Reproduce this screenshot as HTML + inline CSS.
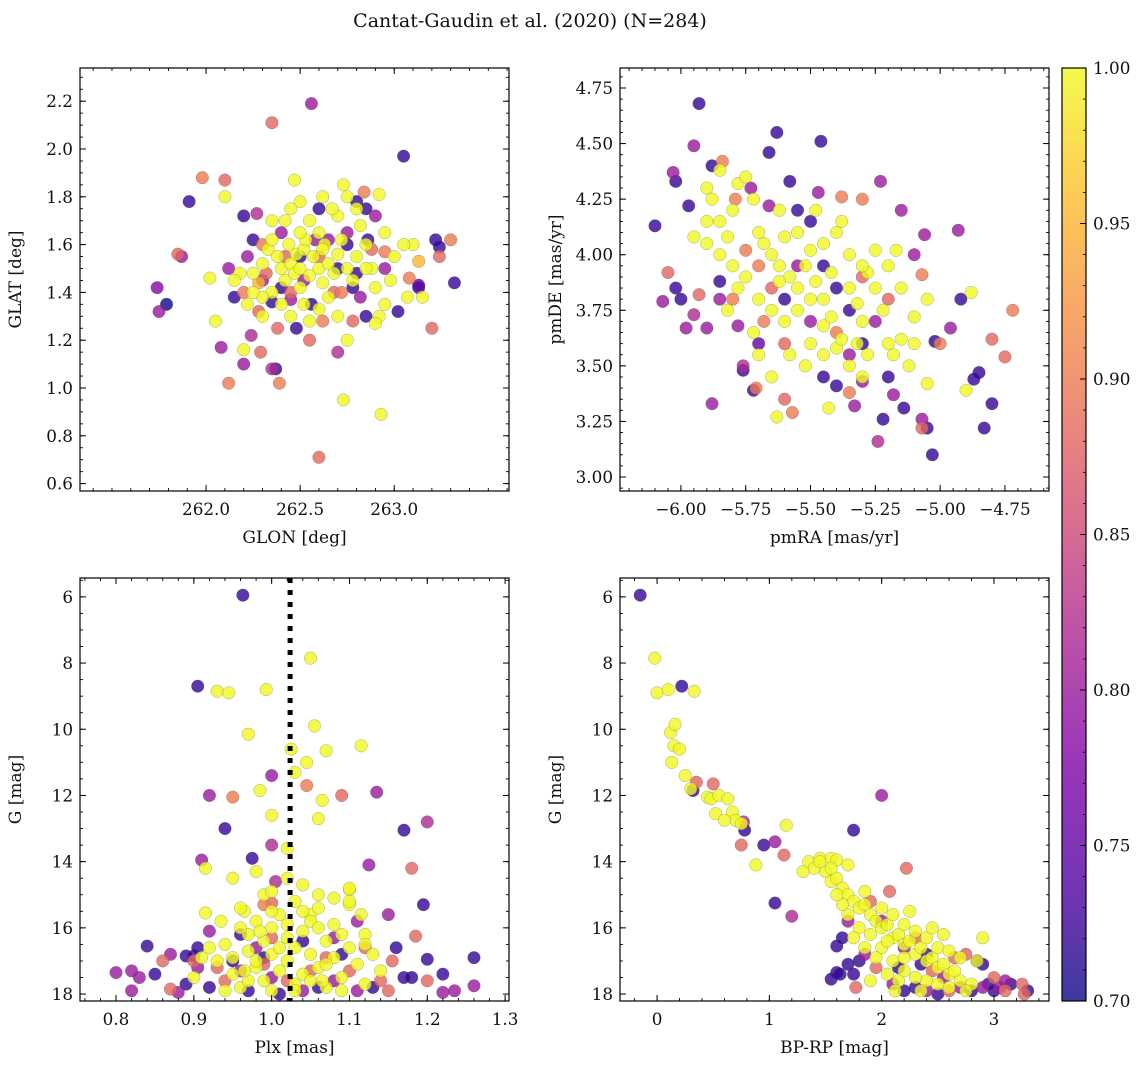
<!DOCTYPE html>
<html><head><meta charset="utf-8">
<style>
html,body{margin:0;padding:0;background:#fff;}
svg{display:block;font-family:"DejaVu Serif","Liberation Serif",serif;}
</style></head>
<body>
<svg id="fig" width="1148" height="1068" viewBox="0 0 1148 1068" xmlns="http://www.w3.org/2000/svg">
<text x="530" y="27" font-size="19" text-anchor="middle" fill="#111">Cantat-Gaudin et al. (2020) (N=284)</text>
</svg>
<script>
// ---- data: [x, y, membership probability] ----
const galPoints = [
[261.74,1.42,.78],[261.75,1.32,.80],[261.79,1.35,.70],[261.85,1.56,.88],[261.87,1.55,.80],[261.91,1.78,.72],[261.98,1.88,.90],[262.02,1.46,1],[262.05,1.28,1],[262.08,1.17,.80],[262.1,1.87,.88],[262.1,1.80,1],[262.12,1.02,.90],[262.12,1.5,.80],[262.2,1.1,.80],[262.2,1.16,1],[262.2,1.72,.72],[262.24,1.22,.82],[262.27,1.73,.82],[262.29,1.15,.88],[262.35,2.11,.88],[262.35,1.08,.82],[262.37,1.08,.72],[262.39,1.02,.90],[262.47,1.87,1],[262.56,2.19,.80],[262.6,0.71,.88],[262.73,0.95,1],[262.93,0.89,1],[262.84,1.82,.90],[262.86,1.62,.72],[262.92,1.81,1],[262.95,1.57,.90],[263.05,1.97,.72],[263.02,1.32,.72],[263.1,1.6,1],[263.13,1.42,.72],[263.13,1.43,.75],[263.13,1.53,.95],[263.15,1.38,1],[263.2,1.25,.88],[263.22,1.62,.72],[263.24,1.59,.72],[263.24,1.55,.88],[263.3,1.62,.90],[263.32,1.44,.72],[263.08,1.46,.90],
[262.25,1.48,1],[262.28,1.44,.95],[262.3,1.52,1],[262.33,1.58,1],[262.35,1.62,1],[262.38,1.55,1],[262.4,1.5,1],[262.42,1.45,1],[262.44,1.6,1],[262.45,1.52,1],[262.47,1.48,1],[262.48,1.56,1],[262.5,1.5,1],[262.5,1.42,1],[262.52,1.58,1],[262.53,1.62,1],[262.55,1.47,1],[262.57,1.55,1],[262.6,1.5,1],[262.62,1.44,1],[262.63,1.6,1],[262.65,1.52,1],[262.68,1.48,1],[262.7,1.56,1],[262.72,1.62,1],[262.75,1.5,1],[262.78,1.45,1],[262.8,1.55,1],[262.82,1.68,1],[262.85,1.6,1],[262.88,1.5,1],[262.9,1.42,1],[262.95,1.35,1],[262.92,1.3,1],[262.9,1.27,1],[262.75,1.2,1],[262.7,1.3,1],[262.65,1.38,1],[262.6,1.33,1],[262.55,1.28,1],[262.45,1.3,1],[262.4,1.35,1],[262.35,1.4,1],[262.3,1.38,1],[262.25,1.4,1],[262.22,1.35,1],[262.18,1.48,1],[262.15,1.45,1],[262.42,1.7,1],[262.5,1.78,1],[262.6,1.65,1],[262.7,1.72,1],[262.75,1.8,1],[262.73,1.85,1],[262.8,1.75,1],[262.67,1.75,1],[262.55,1.7,1],[262.45,1.75,1],[262.35,1.7,1],[262.5,1.65,1],[262.62,1.58,1],[262.85,1.5,1],[262.98,1.45,1],[263.0,1.55,1],[262.95,1.65,1],[263.05,1.6,1],[263.07,1.38,1],[262.52,1.35,1],[262.3,1.3,1],[262.62,1.8,1],
[262.3,1.45,.80],[262.35,1.36,.72],[262.4,1.42,.72],[262.45,1.37,.80],[262.52,1.45,.80],[262.56,1.35,.72],[262.6,1.55,.88],[262.65,1.62,.80],[262.68,1.4,.88],[262.7,1.5,.72],[262.75,1.65,.80],[262.78,1.42,.72],[262.8,1.48,.72],[262.82,1.38,.80],[262.85,1.3,.72],[262.88,1.58,.88],[262.9,1.72,.80],[262.85,1.75,.72],[262.8,1.78,.72],[262.6,1.75,.72],[262.58,1.62,.80],[262.42,1.55,.88],[262.4,1.65,.80],[262.32,1.48,.88],[262.25,1.62,.72],[262.2,1.4,.90],[262.15,1.38,.72],[262.48,1.25,.72],[262.38,1.25,.88],[262.28,1.32,.88],[262.55,1.2,.88],[262.7,1.15,.82],[262.78,1.28,.88],[262.72,1.4,.90],[262.62,1.28,.90],[262.45,1.4,.88],[262.5,1.55,.72],[262.3,1.6,.90],[262.22,1.55,.80],[262.75,1.6,.72],[262.95,1.5,.80]
];
const pmPoints = [
[-6.1,4.13,.72],[-6.05,3.92,.88],[-6.07,3.79,.80],[-6.03,4.37,.80],[-6.02,4.33,.72],[-6.02,3.85,.72],[-6.0,3.80,.72],[-5.97,4.22,.72],[-5.93,4.68,.72],[-5.95,4.49,.80],[-5.98,3.67,.80],[-5.95,3.73,.82],[-5.93,3.82,.88],[-5.9,3.67,.80],[-5.88,3.33,.80],[-5.85,3.8,.8],[-5.85,3.88,.72],[-5.78,3.68,.80],[-5.76,3.5,.82],[-5.76,3.48,.72],[-5.72,3.39,.72],[-5.71,3.4,.9],[-5.7,3.6,.75],[-5.68,3.7,.9],[-5.63,4.55,.72],[-5.66,4.46,.72],[-5.63,3.27,1],[-5.6,3.35,.88],[-5.57,3.29,.90],[-5.58,4.33,.72],[-5.55,4.2,.72],[-5.46,4.51,.72],[-5.47,4.28,.80],[-5.43,3.31,1],[-5.4,3.41,.72],[-5.35,3.38,.90],[-5.33,3.32,.80],[-5.3,3.43,.80],[-5.24,3.16,.82],[-5.22,3.26,.72],[-5.2,3.45,.72],[-5.18,3.37,.80],[-5.14,3.31,.72],[-5.07,3.22,.88],[-5.07,3.26,.80],[-5.05,3.22,.72],[-5.03,3.1,.72],[-5.05,3.42,1],[-5.02,3.61,.72],[-5.0,3.6,.9],[-4.96,3.67,.8],[-4.92,3.8,.72],[-4.88,3.83,1],[-4.9,3.39,1],[-4.87,3.44,.72],[-4.85,3.47,.72],[-4.83,3.22,.72],[-4.8,3.33,.72],[-4.8,3.62,.88],[-4.75,3.54,.88],[-4.72,3.75,.90],[-4.93,4.11,.80],[-5.06,4.09,.80],[-5.1,4.0,.80],[-5.07,3.91,.90],[-5.23,4.33,.80],[-5.17,4.02,1],[-5.15,4.2,.80],[-5.3,4.25,.90],[-5.38,4.26,.90],[-5.66,4.22,.8],[-5.73,4.3,.80],[-5.84,4.42,.90],[-5.88,4.4,.72],[-5.79,4.25,.9],
[-5.9,4.3,1],[-5.88,4.25,1],[-5.85,4.15,1],[-5.82,4.08,1],[-5.8,4.2,1],[-5.78,4.32,1],[-5.75,4.35,1],[-5.72,4.25,1],[-5.7,4.1,1],[-5.68,4.05,1],[-5.65,4.0,1],[-5.62,3.95,1],[-5.6,4.08,1],[-5.58,3.9,1],[-5.55,3.85,1],[-5.52,3.95,1],[-5.5,4.02,1],[-5.48,3.88,1],[-5.45,3.8,1],[-5.42,3.92,1],[-5.4,4.1,1],[-5.38,4.15,1],[-5.35,3.85,1],[-5.32,3.78,1],[-5.3,3.7,1],[-5.28,3.92,1],[-5.25,3.85,1],[-5.22,3.75,1],[-5.2,3.6,1],[-5.18,3.55,1],[-5.15,3.62,1],[-5.12,3.5,1],[-5.1,3.72,1],[-5.5,3.6,1],[-5.52,3.5,1],[-5.45,3.55,1],[-5.4,3.58,1],[-5.35,3.5,1],[-5.3,3.45,1],[-5.28,3.55,1],[-5.6,3.7,1],[-5.65,3.75,1],[-5.7,3.8,1],[-5.75,3.9,1],[-5.8,3.95,1],[-5.85,4.0,1],[-5.9,4.05,1],[-5.95,4.08,1],[-5.82,3.75,1],[-5.78,3.85,1],[-5.7,3.55,1],[-5.65,3.45,1],[-5.58,3.55,1],[-5.55,3.75,1],[-5.5,3.8,1],[-5.45,3.68,1],[-5.42,3.72,1],[-5.38,3.62,1],[-5.25,4.02,1],[-5.2,3.95,1],[-5.15,3.85,1],[-5.05,3.8,1],[-5.1,3.6,1],[-5.62,4.2,1],[-5.55,4.1,1],[-5.48,4.2,1],[-5.45,4.05,1],[-5.35,4.0,1],[-5.3,3.95,1],[-5.32,3.6,1],[-5.62,3.88,1],[-5.72,3.65,1],[-5.85,4.38,1],[-5.9,4.15,1],
[-5.7,3.95,.9],[-5.6,3.8,.72],[-5.5,3.7,.80],[-5.45,3.95,.72],[-5.4,3.85,.72],[-5.35,3.75,.72],[-5.3,3.6,.72],[-5.25,3.7,.8],[-5.2,3.8,.88],[-5.55,3.95,.8],[-5.65,3.85,.88],[-5.75,4.02,.9],[-5.8,3.8,.9],[-5.5,4.15,.72],[-5.4,3.65,.9],[-5.35,3.55,.8],[-5.45,3.45,.72],[-5.3,3.9,.88],[-5.6,3.6,.88]
];
const plxPoints = [
[0.963,5.95,.72],[0.905,8.7,.72],[0.93,8.85,1],[0.945,8.9,1],[0.993,8.8,1],[1.05,7.85,1],[0.97,10.15,1],[1.055,9.9,1],[1.025,10.6,1],[1.07,10.65,1],[1.115,10.5,1],[1.045,11,1],[1.0,11.4,.80],[1.03,11.3,1],[0.985,11.85,1],[0.92,12.0,.80],[0.95,12.05,.90],[1.045,11.7,.90],[1.065,12.15,1],[1.09,12.0,.88],[1.135,11.9,.80],[1.2,12.8,.82],[1.06,12.7,1],[1.0,12.6,1],[0.94,13.0,.72],[1.0,13.5,.82],[1.02,13.6,1],[1.17,13.05,.72],[0.91,13.95,.80],[0.915,14.2,1],[0.975,13.9,.72],[0.98,14.3,1],[1.005,14.6,.82],[1.125,14.1,.80],[1.18,14.2,.88],[1.1,14.85,1],[1.05,15.6,1],[0.915,15.55,1],[0.965,15.5,1],[1.0,15.25,.88],[1.1,15.3,1],[1.15,15.6,.80],[1.12,16.2,1],[1.185,16.25,.88],[1.2,16.95,.72],[1.195,15.3,.72],[0.84,16.55,.72],[0.86,17.0,.88],[0.80,17.35,.80],[0.82,17.3,.80],[0.82,17.9,.80],[0.83,17.5,.80],[0.85,17.4,.72],[0.87,16.8,.80],[0.89,17.7,.72],[0.89,16.85,.72],[0.9,16.85,.72],[0.905,16.6,.72],[0.905,17.2,.80],[0.92,16.1,.80],[0.88,17.95,.80],[0.87,17.85,.88],[1.26,16.9,.72],[1.26,17.75,.80],[1.22,17.4,.72],[1.22,17.95,.80],[1.235,17.9,.80],[1.2,17.6,.88],[1.18,17.5,.72],[1.17,17.5,.72],[1.16,16.6,.72],[1.155,17.0,.88],[1.14,17.6,.88],
[0.94,16.5,1],[0.95,16.9,1],[0.95,17.4,1],[0.96,17.8,1],[0.97,16.2,1],[0.97,16.7,1],[0.98,17.2,1],[0.98,15.8,1],[0.99,16.4,1],[0.99,17.6,1],[1.0,16.0,1],[1.0,16.8,1],[1.0,17.9,1],[1.01,17.3,1],[1.01,15.6,1],[1.02,16.3,1],[1.02,17.0,1],[1.03,16.6,1],[1.03,15.2,1],[1.03,17.7,1],[1.04,16.1,1],[1.04,17.4,1],[1.05,15.8,1],[1.05,16.8,1],[1.06,15.4,1],[1.06,17.2,1],[1.07,16.4,1],[1.07,17.8,1],[1.08,16.9,1],[1.08,15.9,1],[1.09,16.2,1],[1.09,17.5,1],[1.1,16.6,1],[1.1,15.2,1],[1.11,17.1,1],[1.12,16.5,1],[0.93,17.0,1],[0.92,16.6,1],[0.96,15.4,1],[0.97,17.6,1],[0.985,16.1,1],[0.99,15.0,1],[1.0,14.9,1],[1.02,14.5,1],[1.04,14.7,1],[1.06,15.0,1],[1.08,15.1,1],[1.1,14.8,1],[1.115,15.6,1],[1.13,16.8,1],[1.14,17.3,1],[0.9,17.5,1],[0.91,16.9,1],[0.94,17.9,1],[0.96,16.0,1],[0.98,17.0,1],[1.01,16.6,1],[1.03,17.9,1],[1.05,17.6,1],[1.07,17.1,1],[0.95,14.5,1],[1.04,15.5,1],[1.0,15.5,1],[1.06,16.0,1],[1.09,17.9,1],[0.935,15.8,1],[1.02,15.9,1],[0.965,17.3,1],[1.065,17.6,1],[1.12,17.7,1],
[0.93,17.2,.88],[0.94,17.6,.88],[0.96,17.3,.80],[0.97,17.9,.72],[0.99,17.1,.88],[1.0,17.5,.80],[1.01,18.0,.72],[1.02,17.6,.88],[1.04,17.9,.80],[1.05,17.3,.88],[1.06,17.8,.72],[1.07,16.9,.88],[1.08,17.6,.80],[1.09,16.8,.72],[1.1,17.3,.88],[1.11,17.9,.80],[1.12,16.6,.88],[1.13,17.8,.72],[0.98,16.6,.80],[0.96,16.2,.72],[1.0,16.3,.88],[1.04,16.4,.72],[1.08,16.3,.80],[1.11,15.8,.80],[0.99,15.3,.90],[0.95,17.0,.72],[0.92,17.8,.72],[1.15,17.9,.88],[0.9,17.0,.88],[0.99,16.9,.72]
];
const cmdPoints = [
[-0.15,5.95,.72],[-0.02,7.85,1],[0.0,8.9,1],[0.1,8.8,1],[0.22,8.7,.72],[0.33,8.85,1],[0.12,10.1,1],[0.16,9.85,1],[0.15,10.5,1],[0.2,10.6,1],[0.13,11.0,1],[0.25,11.4,1],[0.3,11.8,1],[0.32,11.85,.72],[0.35,11.6,.88],[0.45,12.05,1],[0.48,12.1,1],[0.5,11.65,.88],[0.55,12.0,1],[0.63,12.1,1],[0.67,12.5,1],[0.7,12.75,1],[0.75,12.85,1],[0.77,12.8,.82],[0.78,13.05,.72],[0.52,12.55,1],[0.6,12.75,1],[0.75,13.5,.88],[0.88,14.1,1],[0.95,13.5,.72],[1.05,13.4,.80],[1.15,12.9,1],[1.13,13.8,.88],[1.05,15.25,.72],[1.2,15.65,.82],[1.3,14.3,1],[1.35,14.0,1],[1.4,14.2,1],[1.45,13.9,1],[1.55,13.9,1],[1.6,13.95,1],[1.75,13.05,.72],[1.6,16.55,.72],[1.6,17.35,.72],[1.55,17.55,.72],[1.63,17.4,.72],[1.75,17.4,.72],[1.77,17.8,.88],[2.0,12.0,.80],[2.07,14.9,.88],[2.22,14.2,.88],
[1.5,14.3,1],[1.55,14.6,1],[1.6,14.5,1],[1.65,14.8,1],[1.7,15.0,1],[1.75,15.2,1],[1.8,15.4,1],[1.85,15.3,1],[1.9,15.6,1],[1.95,15.8,1],[2.0,16.0,1],[2.05,15.9,1],[2.1,16.3,1],[2.15,16.2,1],[2.2,16.5,1],[2.25,16.4,1],[2.3,16.8,1],[2.35,16.6,1],[2.4,17.0,1],[2.45,16.9,1],[2.5,17.2,1],[2.55,17.1,1],[2.6,17.4,1],[2.65,17.3,1],[2.7,17.6,1],[2.8,17.7,1],[2.85,17.0,1],[2.9,16.3,1],[2.75,17.9,1],[2.6,17.8,1],[2.4,17.6,1],[2.2,17.3,1],[2.1,17.0,1],[2.0,16.6,1],[1.9,16.2,1],[1.8,16.0,1],[1.7,15.6,1],[1.65,15.3,1],[1.6,15.0,1],[1.55,14.2,1],[1.45,14.0,1],[1.7,14.1,1],[1.85,14.9,1],[2.0,15.4,1],[2.1,15.6,1],[2.2,15.9,1],[2.3,16.1,1],[2.4,16.3,1],[2.5,16.6,1],[2.2,16.9,1],[2.3,17.5,1],[2.5,17.7,1],[2.35,17.9,1],[2.15,17.6,1],[2.05,17.4,1],[1.95,16.9,1],[1.85,16.6,1],[2.25,15.5,1],[2.45,16.0,1],[2.6,16.7,1],[2.7,16.9,1],[2.55,16.2,1],[2.05,16.4,1],[2.12,17.9,1],[1.9,17.6,1],[1.75,16.3,1],
[2.3,17.8,.72],[2.4,17.9,.80],[2.5,18.0,.72],[2.6,17.9,.88],[2.7,17.8,.80],[2.8,17.9,.72],[2.9,17.8,.80],[2.95,17.7,.72],[3.0,17.9,.72],[3.05,17.8,.80],[3.1,17.9,.88],[3.1,17.6,.80],[3.15,17.7,.72],[3.25,17.7,.88],[3.3,17.9,.72],[3.27,18.0,.88],[3.0,17.5,.88],[2.9,17.1,.72],[2.85,17.0,.72],[2.75,16.8,.88],[2.65,16.9,.88],[2.55,17.5,.80],[2.45,17.3,.88],[2.35,17.1,.72],[2.2,17.9,.72],[2.1,17.7,.80],[1.95,17.2,.88],[1.85,16.8,.80],[1.8,17.0,.72],[1.7,17.1,.72],[2.2,16.6,.80],[2.3,16.3,.88],[2.0,15.8,.80],[1.9,15.2,.88],[1.7,15.8,.80],[2.15,17.2,.72],[2.4,16.8,.72],[1.65,16.3,.72]
];
const plxCut = 1.0237;
const cbTicks = [0.70,0.75,0.80,0.85,0.90,0.95,1.00];

// ---- rendering ----
const NS = "http://www.w3.org/2000/svg";
const fig = document.getElementById('fig');
function mk(tag, attrs, parent){ const e=document.createElementNS(NS,tag); for(const k in attrs) e.setAttribute(k,attrs[k]); (parent||fig).appendChild(e); return e; }
const plasma=[[0,[13,8,135]],[0.125,[84,2,163]],[0.25,[126,3,168]],[0.375,[167,34,150]],[0.5,[204,71,120]],[0.625,[230,109,89]],[0.75,[248,149,64]],[0.875,[254,194,42]],[1,[240,249,33]]];
function cmap(t){ t=Math.max(0,Math.min(1,t)); for(let i=1;i<plasma.length;i++){ if(t<=plasma[i][0]){ const a=plasma[i-1],b=plasma[i]; const f=(t-a[0])/(b[0]-a[0]); const c=a[1].map((v,j)=>Math.round(v+(b[1][j]-v)*f)); return `rgb(${c[0]},${c[1]},${c[2]})`; } } return 'rgb(240,249,33)'; }
const norm = p => (p-0.70)/0.30;

const panels = [
 {name:'glon-glat', pts:galPoints, L:80,T:68,R:509,B:491, x0:261.33,x1:263.61, y0:0.569,y1:2.339, xMaj:[262.0,262.5,263.0], xFmt:1, xMin:0.1, yMaj:[0.6,0.8,1.0,1.2,1.4,1.6,1.8,2.0,2.2], yFmt:1, yMin:0.05, xl:'GLON [deg]', yl:'GLAT [deg]'},
 {name:'pmra-pmde', pts:pmPoints, L:620,T:68,R:1049,B:491, x0:-6.235,x1:-4.580, y0:2.937,y1:4.84, xMaj:[-6.0,-5.75,-5.5,-5.25,-5.0,-4.75], xFmt:2, xMin:0.05, yMaj:[3.0,3.25,3.5,3.75,4.0,4.25,4.5,4.75], yFmt:2, yMin:0.05, xl:'pmRA [mas/yr]', yl:'pmDE [mas/yr]'},
 {name:'plx-g', pts:plxPoints, L:80,T:578,R:509,B:1001, x0:0.7537,x1:1.305, y0:18.21,y1:5.43, xMaj:[0.8,0.9,1.0,1.1,1.2,1.3], xFmt:1, xMin:0.02, yMaj:[6,8,10,12,14,16,18], yFmt:0, yMin:0.5, xl:'Plx [mas]', yl:'G [mag]'},
 {name:'cmd', pts:cmdPoints, L:620,T:578,R:1049,B:1001, x0:-0.33,x1:3.49, y0:18.21,y1:5.43, xMaj:[0,1,2,3], xFmt:0, xMin:0.2, yMaj:[6,8,10,12,14,16,18], yFmt:0, yMin:0.5, xl:'BP-RP [mag]', yl:'G [mag]'}
];

panels.forEach(pn=>{
  const g = mk('g',{});
  
  
  const sx = v => pn.L + (v-pn.x0)/(pn.x1-pn.x0)*(pn.R-pn.L);
  const sy = v => pn.B - (v-pn.y0)/(pn.y1-pn.y0)*(pn.B-pn.T);
  const clipId='clip-'+pn.name;
  const cp=mk('clipPath',{id:clipId},g); mk('rect',{x:pn.L,y:pn.T,width:pn.R-pn.L,height:pn.B-pn.T},cp);
  const pg = mk('g',{'clip-path':`url(#${clipId})`},g);
  
  
  const sorted = pn.pts.slice().sort((a,b)=>a[2]-b[2]);
  sorted.forEach(d=>{
    const c = mk('circle',{cx:sx(d[0]),cy:sy(d[1]),r:6.3,fill:cmap(norm(d[2])),'fill-opacity':0.8,stroke:'#555','stroke-width':0.4,'stroke-opacity':0.6},pg);
    
    
  });
  if(pn.name==='plx-g'){
    const ln = mk('line',{x1:sx(plxCut),x2:sx(plxCut),y1:pn.T,y2:pn.B,stroke:'#000','stroke-width':5,'stroke-dasharray':'5,7'},pg);
    
    
  }
  const fr = mk('rect',{x:pn.L,y:pn.T,width:pn.R-pn.L,height:pn.B-pn.T,fill:'none',stroke:'#000','stroke-width':1.2},g);
  
  
  const xlo=Math.min(pn.x0,pn.x1), xhi=Math.max(pn.x0,pn.x1);
  for(let v=Math.ceil(xlo/pn.xMin)*pn.xMin; v<=xhi; v+=pn.xMin){ const x=sx(v);
    mk('line',{x1:x,x2:x,y1:pn.B,y2:pn.B-3,stroke:'#000','stroke-width':0.9},g);
    mk('line',{x1:x,x2:x,y1:pn.T,y2:pn.T+3,stroke:'#000','stroke-width':0.9},g); }
  pn.xMaj.forEach(v=>{ const x=sx(v);
    mk('line',{x1:x,x2:x,y1:pn.B,y2:pn.B-6,stroke:'#000','stroke-width':1},g);
    mk('line',{x1:x,x2:x,y1:pn.T,y2:pn.T+6,stroke:'#000','stroke-width':1},g);
    const t=mk('text',{x:x,y:pn.B+24,'font-size':16.8,'text-anchor':'middle',fill:'#111'},g);
    t.textContent = v.toFixed(pn.xFmt).replace('-','\u2212');
    
    
  });
  const ylo=Math.min(pn.y0,pn.y1), yhi=Math.max(pn.y0,pn.y1);
  for(let v=Math.ceil(ylo/pn.yMin)*pn.yMin; v<=yhi; v+=pn.yMin){ const y=sy(v);
    mk('line',{x1:pn.L,x2:pn.L+3,y1:y,y2:y,stroke:'#000','stroke-width':0.9},g);
    mk('line',{x1:pn.R,x2:pn.R-3,y1:y,y2:y,stroke:'#000','stroke-width':0.9},g); }
  pn.yMaj.forEach(v=>{ const y=sy(v);
    mk('line',{x1:pn.L,x2:pn.L+6,y1:y,y2:y,stroke:'#000','stroke-width':1},g);
    mk('line',{x1:pn.R,x2:pn.R-6,y1:y,y2:y,stroke:'#000','stroke-width':1},g);
    const t=mk('text',{x:pn.L-7,y:y+6,'font-size':16.8,'text-anchor':'end',fill:'#111'},g);
    t.textContent = v.toFixed(pn.yFmt);
    
    
  });
  const xt=mk('text',{x:(pn.L+pn.R)/2,y:pn.B+52,'font-size':17,'text-anchor':'middle',fill:'#111'},g);
  xt.textContent=pn.xl;
  
  
  const yx = pn.L - 59;
  const yt=mk('text',{x:yx,y:(pn.T+pn.B)/2,'font-size':17,'text-anchor':'middle',fill:'#111',transform:`rotate(-90 ${yx} ${(pn.T+pn.B)/2})`},g);
  yt.textContent=pn.yl;
  
  
});

(function(){
  const L=1062,R=1086,T=68,B=1001;
  const g=mk('g',{});
  
  
  const defs=mk('defs',{},g);
  const lg=mk('linearGradient',{id:'cbg',x1:0,y1:1,x2:0,y2:0},defs);
  for(let i=0;i<=20;i++){ mk('stop',{offset:i/20,'stop-color':cmap(i/20)},lg); }
  mk('rect',{x:L,y:T,width:R-L,height:B-T,fill:'url(#cbg)','fill-opacity':0.8},g);
  mk('rect',{x:L,y:T,width:R-L,height:B-T,fill:'none',stroke:'#000','stroke-width':1.2},g);
  const sy=v=>B-(v-0.70)/0.30*(B-T);
  for(let v=0.70; v<=1.0001; v+=0.01){ const y=sy(v); mk('line',{x1:R,x2:R-3,y1:y,y2:y,stroke:'#000','stroke-width':0.8},g); }
  cbTicks.forEach(v=>{ const y=sy(v);
    mk('line',{x1:R,x2:R-6,y1:y,y2:y,stroke:'#000','stroke-width':1},g);
    const t=mk('text',{x:R+7,y:y+6,'font-size':16.8,fill:'#111'},g);
    t.textContent=v.toFixed(2);
    
    
  });
})();
</script>
</body></html>
